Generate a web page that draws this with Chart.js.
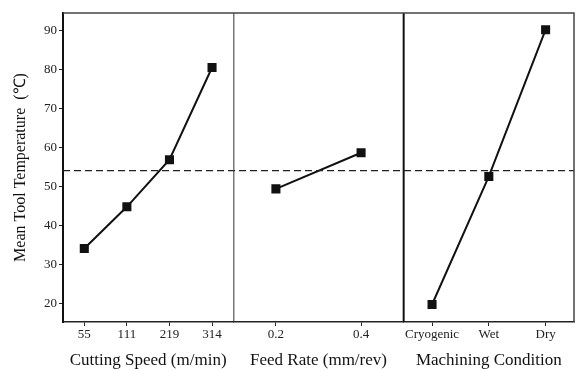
<!DOCTYPE html>
<html>
<head>
<meta charset="utf-8">
<script src="https://cdn.jsdelivr.net/npm/chart.js@4/dist/chart.umd.min.js"></script>
<style>
  html, body { margin: 0; padding: 0; background: #fff; }
  #wrap { width: 576px; height: 371px; }
</style>
</head>
<body>
<div id="wrap"><canvas id="grafico" width="576" height="371"></canvas></div>
<script>
const velocidades = ['55', '111', '219', '314'];
const tempVelocidad = [34.1, 44.8, 56.9, 80.6];
const avances = ['0.2', '0.4'];
const tempAvance = [49.4, 58.7];
const condiciones = ['Cryogenic', 'Wet', 'Dry'];
const tempCondicion = [19.7, 52.6, 90.3];
const yTicks = [20, 30, 40, 50, 60, 70, 80, 90];
const mediaGeneral = 54.1;

const serif = 'Liberation Serif, Times New Roman, serif';

// linea media discontinua y marcos de los paneles
const panelPlugin = {
  id: 'paneles',
  afterDraw(chart) {
    const ctx = chart.ctx;
    const a = chart.chartArea;
    const y = chart.scales.y.getPixelForValue(mediaGeneral);
    ctx.save();
    ctx.strokeStyle = '#222';
    ctx.lineWidth = 1.3;
    ctx.setLineDash([7, 4]);
    ctx.beginPath();
    ctx.moveTo(a.left, y);
    ctx.lineTo(a.right, y);
    ctx.stroke();
    ctx.setLineDash([]);
    ctx.lineWidth = 1;
    ctx.strokeStyle = '#333';
    ctx.beginPath();
    ctx.moveTo(chart.scales.x1.right + 0.5, a.top);
    ctx.lineTo(chart.scales.x1.right + 0.5, a.bottom);
    ctx.stroke();
    ctx.lineWidth = 2;
    ctx.strokeStyle = '#111';
    ctx.beginPath();
    ctx.moveTo(chart.scales.x2.right, a.top);
    ctx.lineTo(chart.scales.x2.right, a.bottom);
    ctx.stroke();
    ctx.lineWidth = 1.5;
    ctx.strokeStyle = '#444';
    ctx.beginPath();
    ctx.moveTo(a.left, a.top);
    ctx.lineTo(a.right, a.top);
    ctx.lineTo(a.right, a.bottom);
    ctx.stroke();
    ctx.restore();
  }
};

function ejeX(labels, titulo) {
  return {
    type: 'category',
    position: 'bottom',
    stack: 'paneles',
    stackWeight: 1,
    labels: labels,
    offset: true,
    grid: { display: true, drawOnChartArea: false, offset: false, tickLength: 4, color: '#222' },
    border: { display: true, color: '#222', width: 1.5 },
    ticks: { color: '#222', font: { family: serif, size: 13 }, padding: 1, maxRotation: 0, autoSkip: false },
    title: { display: true, text: titulo, color: '#111', font: { family: serif, size: 17 }, padding: { top: 0, bottom: 0 } },
    afterFit(scale) {
      scale.height = 49;
      scale.paddingLeft = 0;
      scale.paddingRight = 0;
    }
  };
}

function serie(datos, eje) {
  return {
    data: datos,
    xAxisID: eje,
    borderColor: '#111',
    backgroundColor: '#111',
    borderWidth: 2,
    pointStyle: 'rect',
    pointRadius: 5,
    pointHoverRadius: 5,
    tension: 0
  };
}

new Chart(document.getElementById('grafico'), {
  type: 'line',
  data: {
    datasets: [
      serie(tempVelocidad, 'x1'),
      serie(tempAvance, 'x2'),
      serie(tempCondicion, 'x3')
    ]
  },
  options: {
    responsive: false,
    animation: false,
    layout: { autoPadding: false, padding: { top: 13, right: 2, left: 0, bottom: 0 } },
    plugins: { legend: { display: false }, tooltip: { enabled: false } },
    scales: {
      x1: ejeX(velocidades, 'Cutting Speed (m/min)'),
      x2: ejeX(avances, 'Feed Rate (mm/rev)'),
      x3: ejeX(condiciones, 'Machining Condition'),
      y: {
        type: 'linear',
        position: 'left',
        min: 15.2,
        max: 94.6,
        afterBuildTicks(scale) { scale.ticks = yTicks.map(v => ({ value: v })); },
        grid: { display: true, drawOnChartArea: false, tickLength: 4, color: '#222' },
        border: { display: true, color: '#111', width: 2 },
        ticks: { color: '#222', font: { family: serif, size: 13 }, padding: 2 },
        title: { display: true, text: 'Mean Tool Temperature  (\u2103)', color: '#111', font: { family: serif, size: 16 }, padding: { top: 11, bottom: 0 } },
        afterFit(scale) {
          scale.width = 63;
          scale.paddingTop = 0;
          scale.paddingBottom = 0;
        }
      }
    }
  },
  plugins: [panelPlugin]
});
</script>
</body>
</html>
